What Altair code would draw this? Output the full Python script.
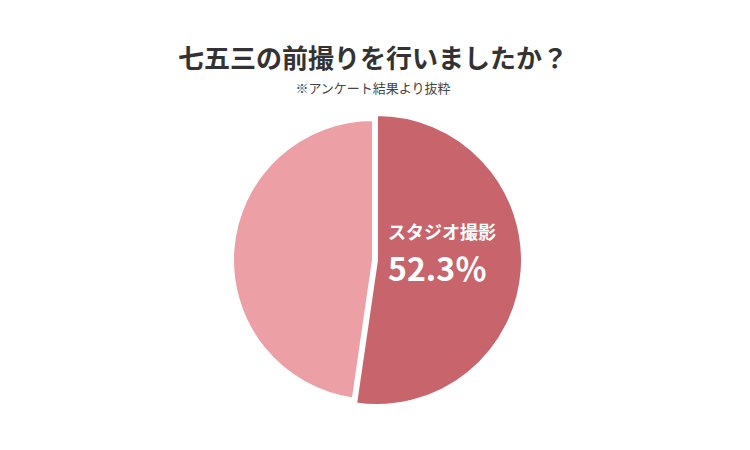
import math
import altair as alt
import pandas as pd

categories = ["スタジオ撮影", "その他"]
values = [52.3, 47.7]
colors = ["#c8646b", "#eca0a5"]
title_text = "七五三の前撮りを行いましたか？"
subtitle_text = "※アンケート結果より抜粋"

df = pd.DataFrame({"category": categories, "value": values, "order": [0, 1]})

FONT = "Noto Sans CJK JP"

base = (
    alt.Chart(df)
    .transform_window(cum="sum(value)", sort=[alt.SortField("order")], frame=[None, 0])
    .transform_calculate(start="datum.cum - datum.value")
)

theta_scale = alt.Scale(domain=[0, 100], range=[0, 2 * math.pi])

red = (
    base.transform_filter(alt.datum.category == categories[0])
    .mark_arc(outerRadius=145, stroke="white", strokeWidth=2)
    .encode(
        theta=alt.Theta("start:Q", scale=theta_scale),
        theta2="cum:Q",
        x=alt.value(364),
        y=alt.value(247),
        color=alt.value(colors[0]),
    )
)

pink = (
    base.transform_filter(alt.datum.category == categories[1])
    .mark_arc(outerRadius=140, stroke="white", strokeWidth=2)
    .encode(
        theta=alt.Theta("start:Q", scale=theta_scale),
        theta2="cum:Q",
        x=alt.value(360),
        y=alt.value(247),
        color=alt.value(colors[1]),
    )
)

lab_base = base.transform_filter(alt.datum.category == categories[0])
label_name = lab_base.mark_text(
    align="left", baseline="middle", font=FONT, fontSize=18, fontWeight="bold", color="white"
).encode(text="category:N", x=alt.value(375), y=alt.value(221))

label_val = (
    lab_base.transform_calculate(pct="format(datum.value, '.1f') + '％'")
    .mark_text(align="left", baseline="middle", font=FONT, fontSize=32, fontWeight="bold", color="white")
    .encode(text="pct:N", x=alt.value(375), y=alt.value(258))
)

blank = alt.Chart(alt.Data(values=[{}]))
title = blank.mark_text(
    text=title_text, align="center", baseline="middle", font=FONT, fontSize=26, fontWeight="bold", color="#333333"
).encode(x=alt.value(360), y=alt.value(47))
subtitle = blank.mark_text(
    text=subtitle_text, align="center", baseline="middle", font=FONT, fontSize=13, color="#444444"
).encode(x=alt.value(360), y=alt.value(76))

chart = (
    alt.layer(pink, red, label_name, label_val, title, subtitle)
    .properties(
        width=734,
        height=434,
        background="white",
        autosize=alt.AutoSizeParams(type="fit", contains="padding"),
    )
    .configure_view(strokeWidth=0, stroke="transparent")
)

chart.save("out.html", embed_options={"renderer": "svg", "actions": False})
